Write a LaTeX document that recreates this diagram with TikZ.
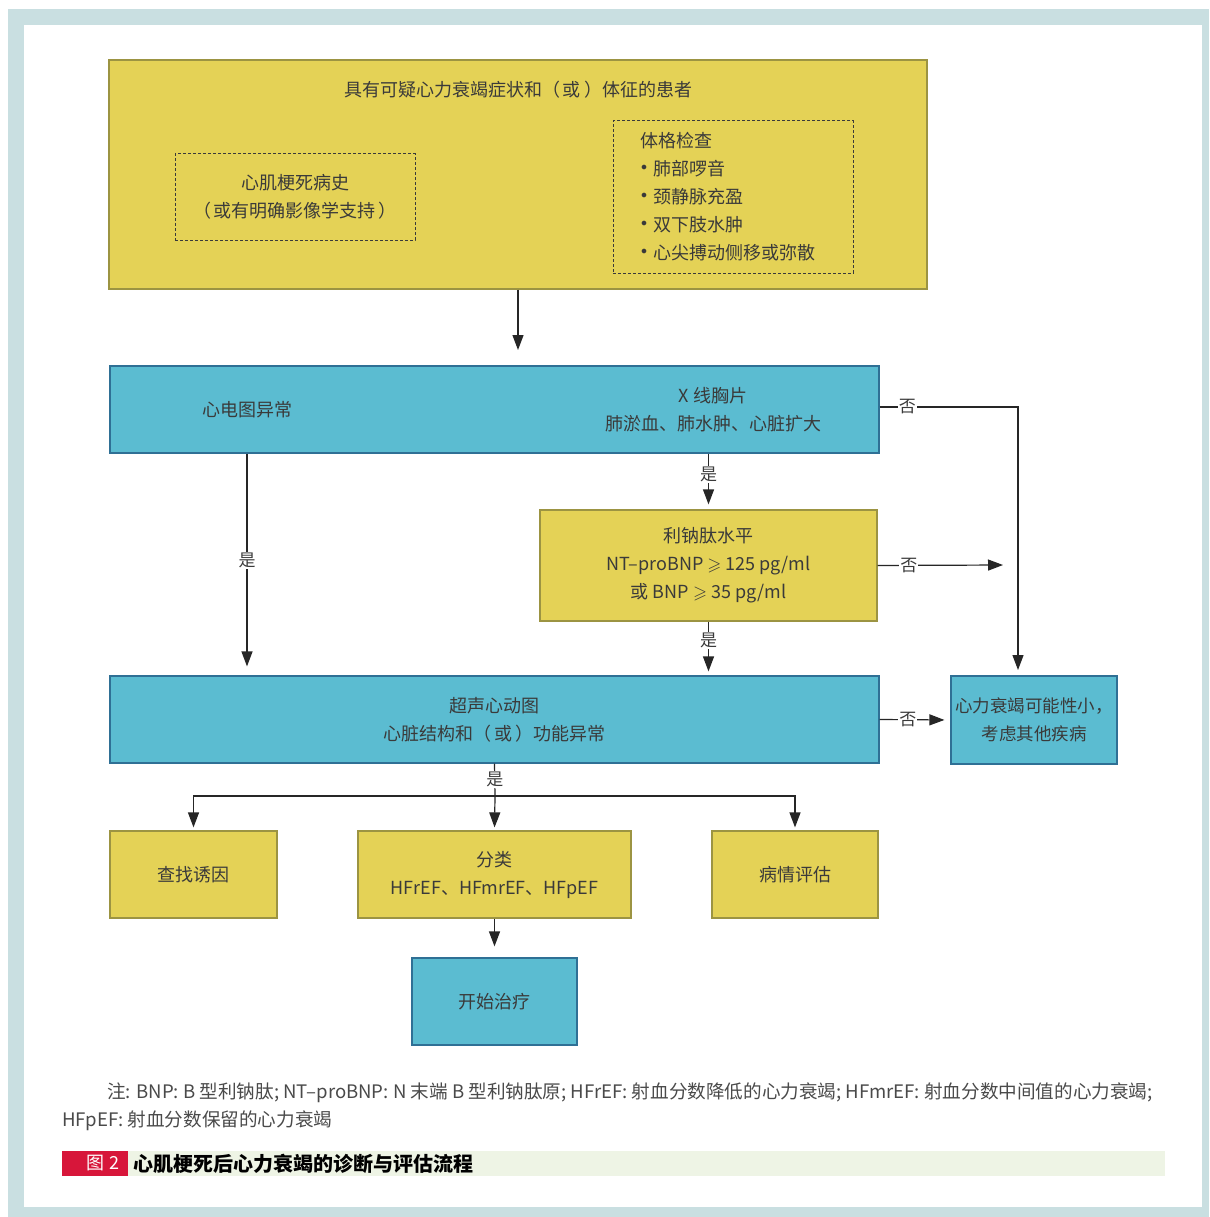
\documentclass[tikz,border=0pt]{standalone}
\usepackage{amssymb}
\usepackage{fontspec}
\setmainfont{Noto Sans CJK SC}
\usetikzlibrary{arrows.meta}
\definecolor{frameblue}{HTML}{C9DFE1}
\definecolor{boxyellow}{HTML}{E4D256}
\definecolor{lineyellow}{HTML}{9C9442}
\definecolor{boxblue}{HTML}{5BBCD1}
\definecolor{lineblue}{HTML}{2F7095}
\definecolor{txtgray}{HTML}{3A3A3A}
\definecolor{notegray}{HTML}{4A4A4A}
\definecolor{capred}{HTML}{D7163A}
\definecolor{capgreen}{HTML}{EEF4E5}
\newcommand{\itm}{\makebox[13pt][l]{\hspace{1pt}\raisebox{0.3em}{$\scriptstyle\bullet$}}}

\begin{document}
\begin{tikzpicture}[x=1pt,y=-1pt,
    txt/.style={text=txtgray, font=\fontsize{18}{28}\selectfont, align=center, inner sep=0pt},
    ybox/.style={draw=lineyellow, fill=boxyellow, line width=1.2pt},
    bbox/.style={draw=lineblue, fill=boxblue, line width=1.2pt},
    dbox/.style={draw=txtgray, dash pattern=on 3pt off 2pt, line width=1pt},
    arr/.style={draw=black!85, line width=1.2pt, -{Triangle[length=15pt,width=11pt]}},
    ln/.style={draw=black!85, line width=1.2pt},
    lbl/.style={fill=white, text=txtgray, font=\fontsize{17}{17}\selectfont, inner sep=1pt}]
        \useasboundingbox (0,0) rectangle (1209,1217);
        % frame
        \fill[white] (0,0) rectangle (1209,1217);
        \fill[frameblue] (8,9) rectangle (1209,1217);
        \fill[white] (24,25) rectangle (1202,1207);

        % patient box
        \node[ybox, minimum width=818pt, minimum height=229pt] (top) at (518,174.5) {};
        \node[txt] (toptxt) at (518,90) {具有可疑心力衰竭症状和（\,或\,）体征的患者};
        \node[dbox, txt, minimum width=240pt, minimum height=86pt] (hist) at (295,197)
            {心肌梗死病史\\（\,或有明确影像学支持\,）};
        \node[dbox, minimum width=240pt, minimum height=152pt] (exam) at (733,197) {};
        \node[txt, align=left, anchor=west] (examtxt) at (640,197)
            {体格检查\\\itm 肺部啰音\\\itm 颈静脉充盈\\\itm 双下肢水肿\\\itm 心尖搏动侧移或弥散};

        % ECG and chest X-ray
        \node[bbox, minimum width=769pt, minimum height=87pt] (ecg) at (494.5,409.5) {};
        \node[txt] (ecgtxt) at (247,410) {心电图异常};
        \node[txt] (xray) at (713,410) {X 线胸片\\肺淤血、肺水肿、心脏扩大};

        % natriuretic peptide
        \node[ybox, txt, minimum width=337pt, minimum height=111pt] (bnp) at (708.5,565.5)
            {利钠肽水平\\NT–proBNP $\geqslant$ 125 pg/ml\\或 BNP $\geqslant$ 35 pg/ml};

        % echo
        \node[bbox, txt, minimum width=769pt, minimum height=87pt] (echo) at (494.5,719.5)
            {超声心动图\\心脏结构和（\,或\,）功能异常};
        \node[bbox, txt, font=\fontsize{17.5}{28}\selectfont, minimum width=166pt, minimum height=88pt] (nohf) at (1034,720)
            {心力衰竭可能性小，\\考虑其他疾病};

        % bottom row
        \node[ybox, txt, minimum width=167pt, minimum height=87pt] (cause) at (193.5,874.5) {查找诱因};
        \node[ybox, txt, minimum width=273pt, minimum height=87pt] (class) at (494.5,874.5)
            {分类\\HFrEF、HFmrEF、HFpEF};
        \node[ybox, txt, minimum width=166pt, minimum height=87pt] (eval) at (795,874.5) {病情评估};
        \node[bbox, txt, minimum width=165pt, minimum height=87pt] (treat) at (494.5,1001.5) {开始治疗};

        % connectors
        \coordinate (a1) at (518,350);
        \coordinate (n1) at (1018,670);
        \coordinate (n2) at (1003,565);
        \coordinate (br) at (495,796);
        \draw[arr] (top.south) -- (a1);
        \draw[arr] (ecg.east |- 0,407) -| node[lbl,pos=0.1] {否} (n1);
        \draw[arr, shorten >=5pt] (bnp.north |- ecg.south) -- node[lbl,pos=0.38] {是} (bnp.north);
        \draw[arr] (bnp.east) -- node[lbl,pos=0.25] {否} (n2);
        \draw[arr, shorten >=4pt] (bnp.south) -- node[lbl,pos=0.35] {是} (bnp.south |- echo.north);
        \draw[arr, shorten >=9pt] (ecgtxt |- ecg.south) -- node[lbl,pos=0.48] {是} (ecgtxt |- echo.north);
        \draw[arr, shorten >=6pt] (echo.east) -- node[lbl,pos=0.4] {否} (nohf.west);
        \draw[ln] (echo.south) -- node[lbl] {是} (br);
        \draw[arr, shorten >=3pt] (br) -| (cause.north);
        \draw[arr, shorten >=3pt] (br) -| (eval.north);
        \draw[arr, shorten >=3pt] (br) -- (class.north);
        \draw[arr, shorten >=11pt] (class.south) -- (treat.north);

        % note
        \node[anchor=west, inner sep=0pt, text=notegray, font=\fontsize{18.6}{18}\selectfont] (note1) at (107,1093)
            {注: BNP: B 型利钠肽; NT–proBNP: N 末端 B 型利钠肽原; HFrEF: 射血分数降低的心力衰竭; HFmrEF: 射血分数中间值的心力衰竭;};
        \node[anchor=west, inner sep=0pt, text=notegray, font=\fontsize{18.6}{18}\selectfont] (note2) at (62,1121)
            {HFpEF: 射血分数保留的心力衰竭};

        % caption
        \fill[capgreen] (128,1151) rectangle (1165,1176);
        \fill[capred] (62,1151) rectangle (128,1176);
        \node[text=white, font=\fontsize{18}{18}\selectfont] (capnum) at (103,1163.5) {图 2};
        \node[anchor=west, inner sep=0pt, font=\fontsize{20}{20}\selectfont\bfseries] (captxt) at (133,1163.5)
            {心肌梗死后心力衰竭的诊断与评估流程};
\end{tikzpicture}
\end{document}
